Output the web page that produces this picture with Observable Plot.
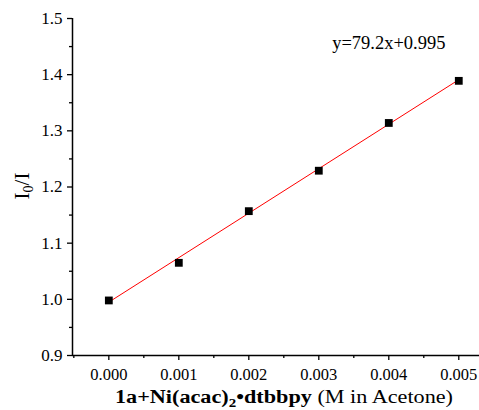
<!DOCTYPE html>
<html><head><meta charset="utf-8">
<script src="https://cdn.jsdelivr.net/npm/d3@7"></script>
<script src="https://cdn.jsdelivr.net/npm/@observablehq/plot@0.6"></script>
<style>body{margin:0;background:#fff}</style>
</head><body><div id="chart"></div>
<script>
const concentrations = [0, 0.001, 0.002, 0.003, 0.004, 0.005];
const ratios = [0.998, 1.065, 1.157, 1.229, 1.314, 1.389];
const slope = 79.2, intercept = 0.995;
const xTicks = [0, 0.001, 0.002, 0.003, 0.004, 0.005];
const xMinorTicks = [-0.0005, 0.0005, 0.0015, 0.0025, 0.0035, 0.0045];
const yTicks = [0.9, 1.0, 1.1, 1.2, 1.3, 1.4, 1.5];
const yMinorTicks = [0.95, 1.05, 1.15, 1.25, 1.35, 1.45];

const points = concentrations.map((c, i) => ({x: c, y: ratios[i]}));
const fitX = [concentrations[0], concentrations[concentrations.length - 1]];
const fit = fitX.map(x => ({x, y: slope * x + intercept}));
const xDomain = [-0.000519, 0.005296];
const yDomain = [0.9, 1.5];
const serif = "Liberation Serif, Times New Roman, serif";
const blank = () => "";

const svg = Plot.plot({
  width: 479, height: 410,
  marginLeft: 72, marginRight: 0, marginTop: 18, marginBottom: 55,
  x: {domain: xDomain},
  y: {domain: yDomain},
  style: {fontFamily: serif, fontSize: "16px", color: "#000", background: "#fff"},
  marks: [
    Plot.axisX(xMinorTicks, {tickSize: 3, strokeWidth: 1.3, tickFormat: blank, label: null}),
    Plot.axisX(xTicks, {tickSize: 5, tickPadding: 8, strokeWidth: 1.3, tickFormat: d3.format(".3f"), label: null, fontSize: 16.5, fontFamily: serif}),
    Plot.axisY(yMinorTicks, {tickSize: 3, strokeWidth: 1.3, tickFormat: blank, label: null}),
    Plot.axisY(yTicks, {tickSize: 5, tickPadding: 5, strokeWidth: 1.3, tickFormat: d3.format(".1f"), label: null, fontSize: 17, fontFamily: serif}),
    Plot.ruleY([yDomain[0]], {strokeWidth: 1.5}),
    Plot.ruleX([xDomain[0]], {strokeWidth: 1.5}),
    Plot.line(fit, {x: "x", y: "y", stroke: "#ff0000", strokeWidth: 1}),
    Plot.dot(points, {x: "x", y: "y", symbol: "square", r: 4.4, fill: "#000", stroke: "none"}),
    Plot.text([`y=${slope}x+${intercept}`], {frameAnchor: "top-right", dx: -34, dy: 25, textAnchor: "end", lineAnchor: "middle", fontSize: 18.5, fontFamily: serif})
  ]
});

const s = d3.select(svg);
const xl = s.append("text")
  .attr("x", 115).attr("y", 403)
  .attr("text-anchor", "start")
  .attr("textLength", 338).attr("lengthAdjust", "spacingAndGlyphs")
  .attr("font-family", serif).attr("font-size", 18.5).attr("fill", "#000");
xl.append("tspan").attr("font-weight", "bold").text("1a+Ni(acac)");
xl.append("tspan").attr("font-weight", "bold").attr("font-size", 12.5).attr("dy", 4).text("2");
xl.append("tspan").attr("font-weight", "bold").attr("dy", -4).text("•dtbbpy");
xl.append("tspan").text(" (M in Acetone)");
const yl = s.append("text")
  .attr("transform", "translate(28.5,186) rotate(-90)")
  .attr("text-anchor", "middle")
  .attr("font-family", serif).attr("font-size", 21).attr("fill", "#000");
yl.append("tspan").text("I");
yl.append("tspan").attr("font-size", 14).attr("dy", 4).text("0");
yl.append("tspan").attr("dy", -4).text("/I");

document.getElementById("chart").appendChild(svg);
</script>
</body></html>
